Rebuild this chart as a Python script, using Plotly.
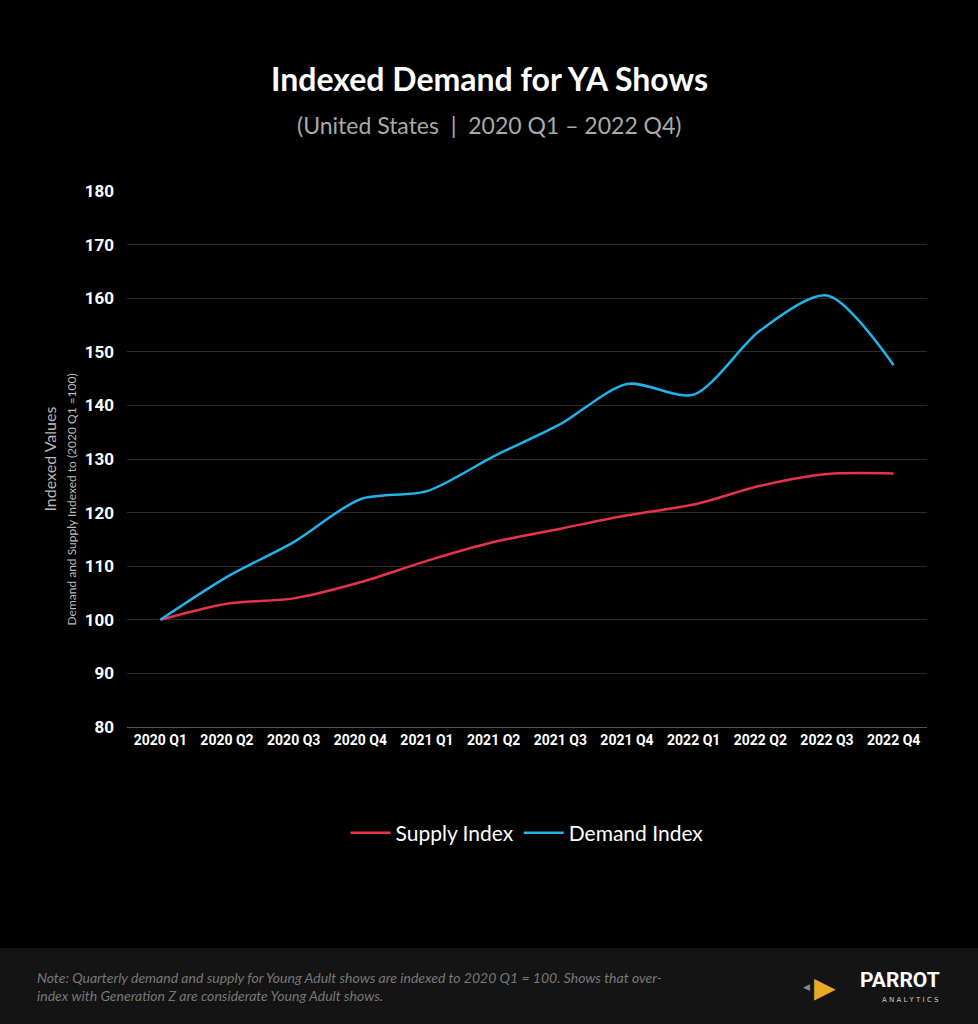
import plotly.graph_objects as go

quarters = ["2020 Q1","2020 Q2","2020 Q3","2020 Q4","2021 Q1","2021 Q2","2021 Q3","2021 Q4","2022 Q1","2022 Q2","2022 Q3","2022 Q4"]
supply = [100, 103, 104, 107, 111, 114.5, 117, 119.5, 121.5, 125, 127.2, 127.3]
demand = [100, 108, 114.5, 122.5, 124, 130.5, 136.5, 144, 142, 154, 160.5, 147.5]

H = 536.0
def py(pix):
    return (727 - pix) / H
def px(pix):
    return (pix - 127) / 800.0

def ann(text, x, y, size, color, family="Lato", **kw):
    d = dict(text=text, xref="paper", yref="paper", x=px(x), y=py(y), yanchor="middle",
             showarrow=False, font=dict(family=family, size=size, color=color))
    d.update(kw)
    return d

fig = go.Figure()
fig.add_trace(go.Scatter(x=quarters, y=supply, name="Supply Index", mode="lines",
                         line=dict(color="#e8334a", width=2.5, shape="spline", smoothing=0.8)))
fig.add_trace(go.Scatter(x=quarters, y=demand, name="Demand Index", mode="lines",
                         line=dict(color="#1fb4ea", width=2.5, shape="spline", smoothing=0.8)))

fig.update_layout(
    width=978, height=1024,
    margin=dict(l=127, r=51, t=191, b=297),
    paper_bgcolor="black", plot_bgcolor="black",
    showlegend=True,
    legend=dict(orientation="h", x=0.5, xanchor="center", y=py(833), yanchor="middle",
                font=dict(family="Lato", size=21, color="white"), itemwidth=40),
    xaxis=dict(range=[-0.5, 11.5], showgrid=False, zeroline=False, showline=True,
               linecolor="#555", linewidth=1, ticks="", tickangle=0,
               tickfont=dict(family="Roboto", size=14, color="white", weight="bold")),
    yaxis=dict(range=[80, 180], dtick=10, showgrid=True, gridcolor="#2a2a2a", zeroline=False,
               showline=False, ticks="", ticklabelstandoff=12,
               tickfont=dict(family="Roboto", size=17, color="white", weight="bold")),
    shapes=[dict(type="rect", xref="paper", yref="paper", x0=-0.2, x1=1.1,
                 y0=py(1030), y1=py(948), fillcolor="#141414", line=dict(width=0), layer="below")],
    annotations=[
        ann("<b>Indexed Demand for YA Shows</b>", 489, 78, 32, "white"),
        ann("(United States  |  2020 Q1 – 2022 Q4)", 489, 125, 23, "#aaaaaa"),
        ann("Indexed Values", 37, 459, 16, "#bbbbbb", textangle=-90),
        ann("Demand and Supply Indexed to (2020 Q1 =100)", 61, 500, 12, "#bbbbbb", textangle=-90),
        ann("<i>Note: Quarterly demand and supply for Young Adult shows are indexed to 2020 Q1 = 100. Shows that over-<br>index with Generation Z are considerate Young Adult shows.</i>",
            35, 986, 14, "#777777", xanchor="left", align="left"),
        ann("<b>PARROT</b>", 942, 980, 21, "white", family="Roboto", xanchor="right"),
        ann("A N A L Y T I C S", 941, 1000, 7, "#cccccc", family="DejaVu Sans", xanchor="right"),
        ann("◀", 812, 986, 9, "#888888"),
        ann("▶", 838, 986, 28, "#e9a825"),
    ],
)
fig.write_html("out.html", config={"displayModeBar": False},
               post_script="document.body.style.margin='0';document.body.style.background='black';")
